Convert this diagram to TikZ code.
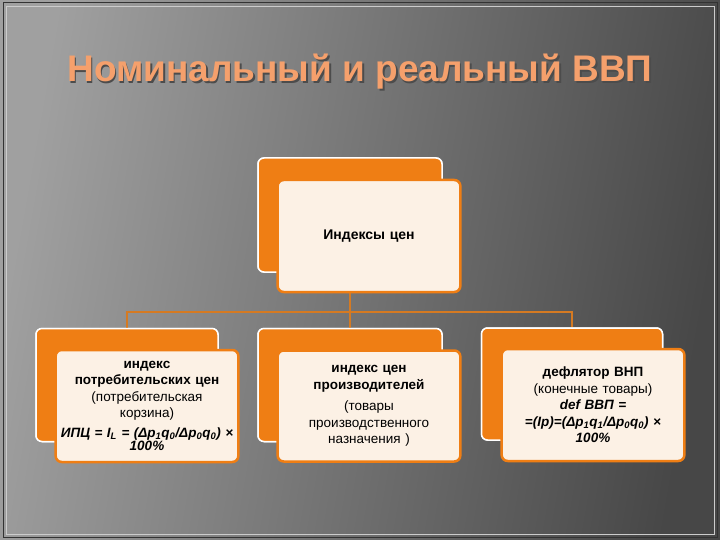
\documentclass[tikz,border=0pt]{standalone}
\usepackage{fontspec}
\setmainfont{Liberation Sans}
\usetikzlibrary{positioning}
\definecolor{bgdark}{HTML}{474747}
\definecolor{bgmid}{HTML}{5E5E5E}
\definecolor{bglight}{HTML}{A0A0A0}
\definecolor{titleorange}{HTML}{F5A06C}
\definecolor{boxorange}{HTML}{EF7E14}
\definecolor{boxcream}{HTML}{FCF1E5}
\definecolor{lineorange}{HTML}{D57A22}

\begin{document}
\begin{tikzpicture}[x=1pt,y=-1pt,
	backbox/.style={rectangle, rounded corners=6pt, fill=boxorange, draw=white, line width=1.5pt},
	frontbox/.style={rectangle, rounded corners=6pt, fill=boxcream, draw=boxorange, line width=2.5pt, align=center, font=\fontsize{13.5}{16.5}\selectfont, text width=176pt},
	conn/.style={draw=lineorange, line width=1.5pt}]
		% background
		\useasboundingbox (0,0) rectangle (720,540);
		\shade[left color=bglight, middle color=bgmid, right color=bgdark, shading angle=80] (0,0) rectangle (720,540);
		\draw[black!80, line width=1pt] (3,3) rectangle (717,537);
		\draw[white!60!gray, line width=0.6pt] (6,6) rectangle (714,534);
		% title
		\node[text=black!70, font=\fontsize{37}{40}\selectfont\bfseries] at (361.5,73.5) {Номинальный и реальный ВВП};
		\node[text=titleorange, font=\fontsize{37}{40}\selectfont\bfseries] (title) at (360,72) {Номинальный и реальный ВВП};
		% back boxes
		\node [backbox, minimum width=184pt, minimum height=114pt] (topB) at (350,215) {};
		\node [backbox, minimum width=182pt, minimum height=113pt] (leftB) at (127,385) {};
		\node [backbox, minimum width=184pt, minimum height=113pt] (midB) at (350,385) {};
		\node [backbox, minimum width=181pt, minimum height=112pt] (rightB) at (572,384) {};
		% connectors
		\coordinate (hub) at (350,312);
		\draw[conn]
		(topB.south) -- (hub)
		(hub) -| (leftB.north)
		(hub) -- (midB.north)
		(hub) -| (rightB.north);
		\node [backbox, minimum width=184pt, minimum height=114pt] at (topB) {};
		\node [backbox, minimum width=182pt, minimum height=113pt] at (leftB) {};
		\node [backbox, minimum width=184pt, minimum height=113pt] at (midB) {};
		\node [backbox, minimum width=181pt, minimum height=112pt] at (rightB) {};
		% front boxes
		\node [frontbox, minimum width=182pt, minimum height=112pt, font=\fontsize{14}{17}\selectfont\bfseries] (topF) at (369,236) {Индексы цен};
		\node [frontbox, minimum width=180pt, minimum height=112pt] (leftF) at (147,406)
		{\textbf{индекс}\\ \textbf{потребительских цен}\\ (потребительская\\ корзина)\\[3pt]
		\textbf{\textit{ИПЦ = I\textsubscript{L} = (Δp\textsubscript{1}q\textsubscript{0}/Δp\textsubscript{0}q\textsubscript{0}) ×}}\\[-3pt] \textbf{\textit{100\%}}};
		\node [frontbox, minimum width=181pt, minimum height=111pt] (midF) at (369,406)
		{\textbf{индекс цен}\\ \textbf{производителей}\\[5pt] (товары\\ производственного\\ назначения )};
		\node [frontbox, minimum width=180pt, minimum height=112pt] (rightF) at (593,405)
		{\textbf{дефлятор ВНП}\\ (конечные товары)\\ \textbf{\textit{def ВВП =}}\\
		\textbf{\textit{=(Ip)=(Δp\textsubscript{1}q\textsubscript{1}/Δp\textsubscript{0}q\textsubscript{0}) ×}}\\ \textbf{\textit{100\%}}};
	\end{tikzpicture}
\end{document}
